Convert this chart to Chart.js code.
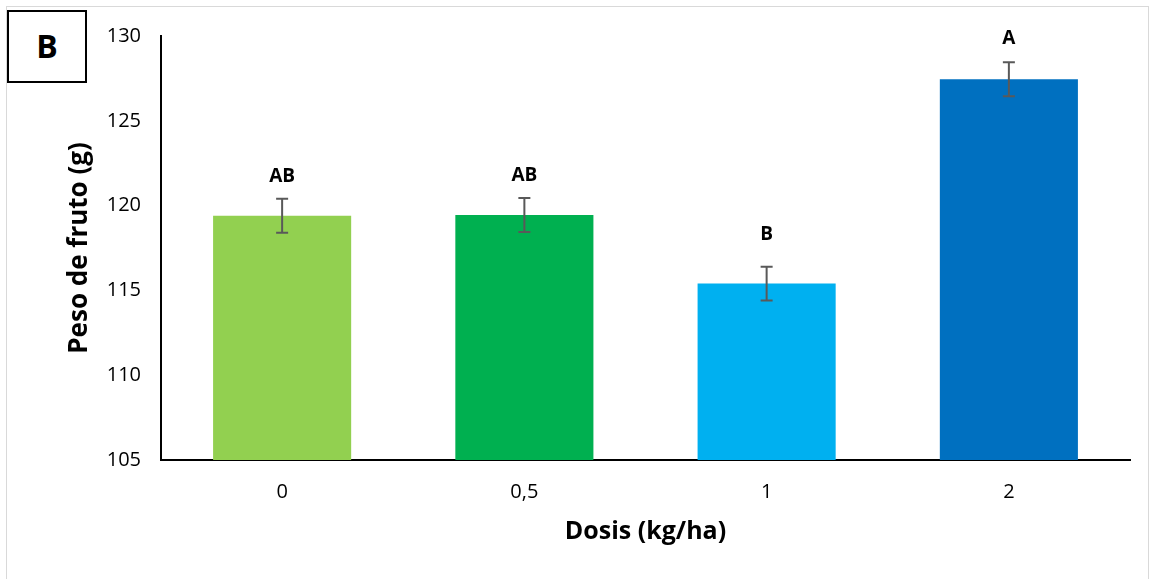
<!DOCTYPE html>
<html>
<head>
<meta charset="utf-8">
<script src="https://cdn.jsdelivr.net/npm/chart.js@4"></script>
<style>
  html, body { margin: 0; padding: 0; background: #fff; }
  #wrap { position: relative; width: 1149px; height: 579px; overflow: hidden; }
  #marco { position: absolute; left: 6px; top: 6px; width: 1143px; height: 600px;
           box-sizing: border-box; border: 1px solid #d9d9d9; }
  #letra { position: absolute; left: 7px; top: 10px; width: 80px; height: 73px;
           box-sizing: border-box; border: 2px solid #000; background: #fff;
           font: bold 32px "Open Sans", sans-serif; text-align: center; line-height: 68px; }
  canvas { position: absolute; left: 0; top: 0; }
</style>
</head>
<body>
<div id="wrap">
  <div id="marco"></div>
  <canvas id="grafico" width="1149" height="579"></canvas>
  <div id="letra">B</div>
</div>
<script>
// Datos
const dosis = ['0', '0,5', '1', '2'];
const pesoFruto = [119.4, 119.45, 115.4, 127.45];
const errorFruto = [1.0, 1.0, 1.0, 1.0];
const letras = ['AB', 'AB', 'B', 'A'];
const ticksY = [105, 110, 115, 120, 125, 130];
const colores = ['#92D050', '#00B050', '#00B0F0', '#0070C0'];

// separacion (px) entre la letra y la barra de error
const separacion = [22, 22, 32, 24];

// Barras de error y letras de significancia
const barrasError = {
    id: 'barrasError',
    afterDatasetsDraw(chart) {
        const ctx = chart.ctx;
        const x = chart.scales.x;
        const y = chart.scales.y;
        ctx.save();
        dosis.forEach((d, i) => {
            const cx = x.getPixelForValue(i);
            const yTop = y.getPixelForValue(pesoFruto[i] + errorFruto[i]);
            const yBot = y.getPixelForValue(pesoFruto[i] - errorFruto[i]);
            ctx.strokeStyle = '#595959';
            ctx.lineWidth = 2;
            ctx.beginPath();
            ctx.moveTo(cx, yTop); ctx.lineTo(cx, yBot);
            ctx.moveTo(cx - 6, yTop); ctx.lineTo(cx + 6, yTop);
            ctx.moveTo(cx - 6, yBot); ctx.lineTo(cx + 6, yBot);
            ctx.stroke();
            ctx.fillStyle = '#000';
            ctx.font = 'bold 19px "Open Sans", sans-serif';
            ctx.textAlign = 'center';
            ctx.textBaseline = 'middle';
            ctx.fillText(letras[i], cx, yTop - separacion[i]);
        });
        ctx.restore();
    }
};

new Chart(document.getElementById('grafico'), {
    type: 'bar',
    data: {
        labels: dosis,
        datasets: [{
            data: pesoFruto,
            backgroundColor: colores,
            borderWidth: 0,
            categoryPercentage: 1,
            barPercentage: 0.57
        }]
    },
    options: {
        responsive: false,
        animation: false,
        layout: { padding: { top: 36, right: 19, left: 64, bottom: 32 } },
        plugins: { legend: { display: false }, tooltip: { enabled: false } },
        scales: {
            x: {
                grid: { display: false, drawTicks: false },
                border: { color: '#000', width: 2 },
                ticks: { color: '#000', padding: 20, font: { family: 'Open Sans', size: 20 } },
                title: { display: true, text: 'Dosis (kg/ha)', color: '#000', padding: 0,
                         font: { family: 'Open Sans', size: 25, weight: 'bold' } },
                afterFit(scale) { scale.height = 87; }
            },
            y: {
                min: 105, max: 130,
                afterBuildTicks(scale) { scale.ticks = ticksY.map(v => ({ value: v })); },
                grid: { display: false, drawTicks: false },
                border: { color: '#000', width: 2 },
                ticks: { color: '#000', padding: 20, font: { family: 'Open Sans', size: 20 } },
                title: { display: true, text: 'Peso de fruto (g)', color: '#000', padding: 0,
                         font: { family: 'Open Sans', size: 26, weight: 'bold' } },
                afterFit(scale) { scale.width = 97; }
            }
        }
    },
    plugins: [barrasError]
});
</script>
</body>
</html>
